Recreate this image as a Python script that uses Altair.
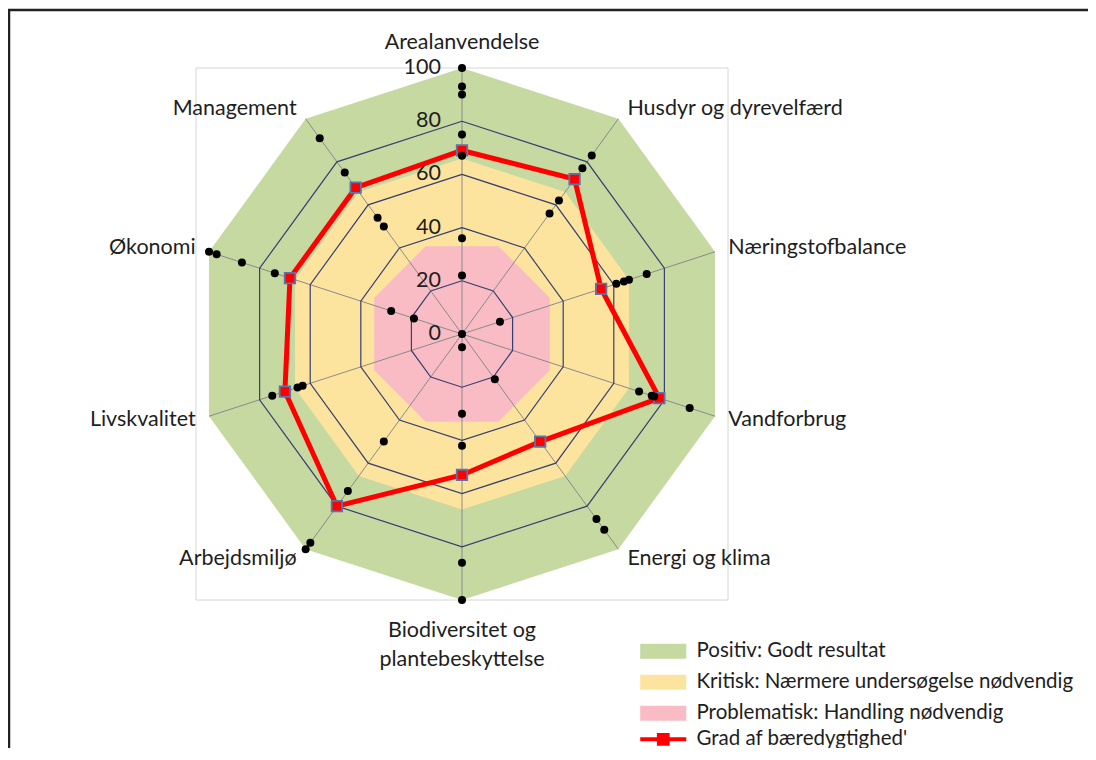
import altair as alt
import pandas as pd

# ---------------- data ----------------
categories = ["Arealanvendelse", "Husdyr og dyrevelfærd", "Næringstofbalance", "Vandforbrug",
              "Energi og klima", "Biodiversitet og\nplantebeskyttelse", "Arbejdsmiljø",
              "Livskvalitet", "Økonomi", "Management"]
label_side = ["top", "right", "right", "right", "right", "bottom", "left", "left", "left", "left"]

series_name = "Grad af bæredygtighed'"
score = [69, 72, 55, 78, 50, 53, 80, 70, 68, 68]

dots_areal = [100, 93, 90, 75, 67, 36, 22, 0]
dots_husdyr = [83, 77, 62, 56]
dots_naering = [73, 66, 64, 61, 15]
dots_vand = [90, 76, 75, 70]
dots_energi = [91, 86, 21]
dots_bio = [100, 86, 42, 30, 5]
dots_arbejde = [100, 97, 73, 50]
dots_livs = [75, 65, 63]
dots_oekonomi = [100, 97, 87, 74, 28, 19]
dots_management = [91, 75, 54, 50]
all_dots = [dots_areal, dots_husdyr, dots_naering, dots_vand, dots_energi,
            dots_bio, dots_arbejde, dots_livs, dots_oekonomi, dots_management]

tick_values = [0, 20, 40, 60, 80, 100]
grid_levels = [20, 40, 60, 80]

zone_names = ["Positiv: Godt resultat",
              "Kritisk: Nærmere undersøgelse nødvendig",
              "Problematisk: Handling nødvendig"]
zone_limits = [100, 66, 33]
zone_sides = [10, 10, 8]
zone_turn = [0, 0, 0.5]
zone_colors = ["#C5D9A0", "#FDE49E", "#F9BCC4"]

# ---------------- layout ----------------
W, H = 1080, 740
PX = 2.66            # pixels per score unit
CX, CY = 454, 326    # centre of the radar inside the view
N = len(categories)
FONT = "Lato"
FS = 21.5
TXT = "#1E1E1E"

xscale = alt.Scale(domain=[-CX / PX, (W - CX) / PX], nice=False, zero=False)
yscale = alt.Scale(domain=[-(H - CY) / PX, CY / PX], nice=False, zero=False)


def XY(xf="x", yf="y"):
    return dict(x=alt.X(f"{xf}:Q", scale=xscale, axis=None),
                y=alt.Y(f"{yf}:Q", scale=yscale, axis=None))


def polar(ch, r="datum.r", a=f"datum.k*2*PI/{N}"):
    return ch.transform_calculate(ang=a).transform_calculate(
        x=f"({r})*sin(datum.ang)", y=f"({r})*cos(datum.ang)")


# tables built from the arrays
zone_rows = []
for name, lim, n, t in zip(zone_names, zone_limits, zone_sides, zone_turn):
    for j in range(n + 1):
        zone_rows.append(dict(zone=name, limit=lim, n=n, turn=t, j=j))
zone_df = pd.DataFrame(zone_rows)

grid_df = pd.DataFrame([dict(level=l, k=j % N, j=j) for l in grid_levels for j in range(N + 1)])
spoke_df = pd.DataFrame(dict(k=list(range(N)), r=[100] * N))
score_df = pd.DataFrame([dict(series=series_name, k=j % N, j=j, r=score[j % N]) for j in range(N + 1)])
dots_df = pd.DataFrame([dict(k=k, r=v) for k, vals in enumerate(all_dots) for v in vals])
tick_df = pd.DataFrame(dict(v=tick_values))
label_df = pd.DataFrame(dict(name=categories, k=list(range(N)), side=label_side))
box_df = pd.DataFrame(dict(lo=[-100], hi=[100]))
one_df = pd.DataFrame(dict(a=[0]))

layers = []

# page frame (left and top edges of the screenshot border)
layers.append(alt.Chart(one_df).mark_rule(color="#222222", strokeWidth=2.5).encode(
    x=alt.value(1), y=alt.value(1), y2=alt.value(H)))
layers.append(alt.Chart(one_df).mark_rule(color="#222222", strokeWidth=2.5).encode(
    x=alt.value(0), x2=alt.value(W), y=alt.value(2)))

# plot-area border
layers.append(alt.Chart(box_df).mark_rect(fillOpacity=0, stroke="#D6D6D6", strokeWidth=1).encode(
    x=alt.X("lo:Q", scale=xscale, axis=None), x2="hi:Q",
    y=alt.Y("lo:Q", scale=yscale, axis=None), y2="hi:Q"))

# legends: symbol paths reach past the unit box so that rows stay compact
LEG = dict(title=None, orient="none", symbolSize=225, labelFont=FONT, labelFontSize=20.5,
           labelFontWeight="normal", labelColor=TXT, labelLimit=0, labelOffset=23)
zone_legend = alt.Legend(legendX=645, legendY=633, rowPadding=10,
                         symbolType="M-3.07,-1H3.07V1H-3.07Z", symbolStrokeWidth=0, **LEG)
line_legend = alt.Legend(legendX=645, legendY=721,
                         symbolType="M-3.07,-0.28H3.07V0.28H-3.07Z M-0.85,-0.85H0.85V0.85H-0.85Z",
                         symbolFillColor="#FF0000", symbolStrokeWidth=0, **LEG)

# zone bands (one shared legend)
for i, name in enumerate(zone_names):
    z = alt.Chart(zone_df).transform_filter(alt.datum.zone == name)
    z = z.transform_calculate(ang="(datum.j+datum.turn)*2*PI/datum.n",
                              r="datum.limit/cos(datum.turn*2*PI/datum.n)")
    z = z.transform_calculate(x="datum.r*sin(datum.ang)", y="datum.r*cos(datum.ang)")
    layers.append(z.mark_line(strokeWidth=0, fillOpacity=1).encode(
        **XY(),
        fill=alt.Fill("zone:N", scale=alt.Scale(domain=zone_names, range=zone_colors),
                      legend=zone_legend if i == 0 else None),
        order=alt.Order("j:Q")))

# spokes
layers.append(polar(alt.Chart(spoke_df)).transform_calculate(x0="0", y0="0").mark_rule(
    color="#8A8A8A", strokeWidth=1).encode(**XY(), x2="x0:Q", y2="y0:Q"))

# grid polygons
layers.append(polar(alt.Chart(grid_df), r="datum.level").mark_line(
    color="#363F72", strokeWidth=1.2).encode(
    **XY(), detail="level:N", order=alt.Order("j:Q")))

# radial tick labels
layers.append(alt.Chart(tick_df).transform_calculate(x="0", y="datum.v").mark_text(
    align="right", baseline="middle", dx=-21, font=FONT, fontSize=FS, color=TXT).encode(
    **XY(), text="v:Q"))

# score line
layers.append(polar(alt.Chart(score_df)).mark_line(strokeWidth=5).encode(
    **XY(),
    stroke=alt.Stroke("series:N", scale=alt.Scale(domain=[series_name], range=["#FF0000"]),
                      legend=line_legend),
    order=alt.Order("j:Q")))
layers.append(polar(alt.Chart(score_df)).transform_filter("datum.j < %d" % N).mark_square(
    size=110, fill="#FF0000", stroke="#5876A8", strokeWidth=1.8, opacity=1).encode(**XY()))

# individual results
layers.append(polar(alt.Chart(dots_df)).mark_circle(size=64, color="#000000", opacity=1).encode(**XY()))

# category labels
lab = polar(alt.Chart(label_df), r="datum.side == 'top' || datum.side == 'bottom' ? 100 : 104.5")
layers.append(lab.transform_filter("datum.side == 'top'").mark_text(
    align="center", baseline="middle", dy=-25, font=FONT, fontSize=FS, color=TXT).encode(
    **XY(), text="name:N"))
layers.append(lab.transform_filter("datum.side == 'bottom'").mark_text(
    align="center", baseline="top", dy=20, lineBreak="\n", lineHeight=29,
    font=FONT, fontSize=FS, color=TXT).encode(**XY(), text="name:N"))
layers.append(lab.transform_filter("datum.side == 'right'").mark_text(
    align="left", baseline="middle", dx=2, font=FONT, fontSize=FS, color=TXT).encode(
    **XY(), text="name:N"))
layers.append(lab.transform_filter("datum.side == 'left'").mark_text(
    align="right", baseline="middle", dx=-2, font=FONT, fontSize=FS, color=TXT).encode(
    **XY(), text="name:N"))

chart = alt.layer(*layers).properties(
    width=W, height=H, padding=0, autosize=alt.AutoSizeParams(type="none"),
    background="white"
).configure_view(stroke=None)

chart.save("out.html", embed_options={"renderer": "svg", "actions": False})
